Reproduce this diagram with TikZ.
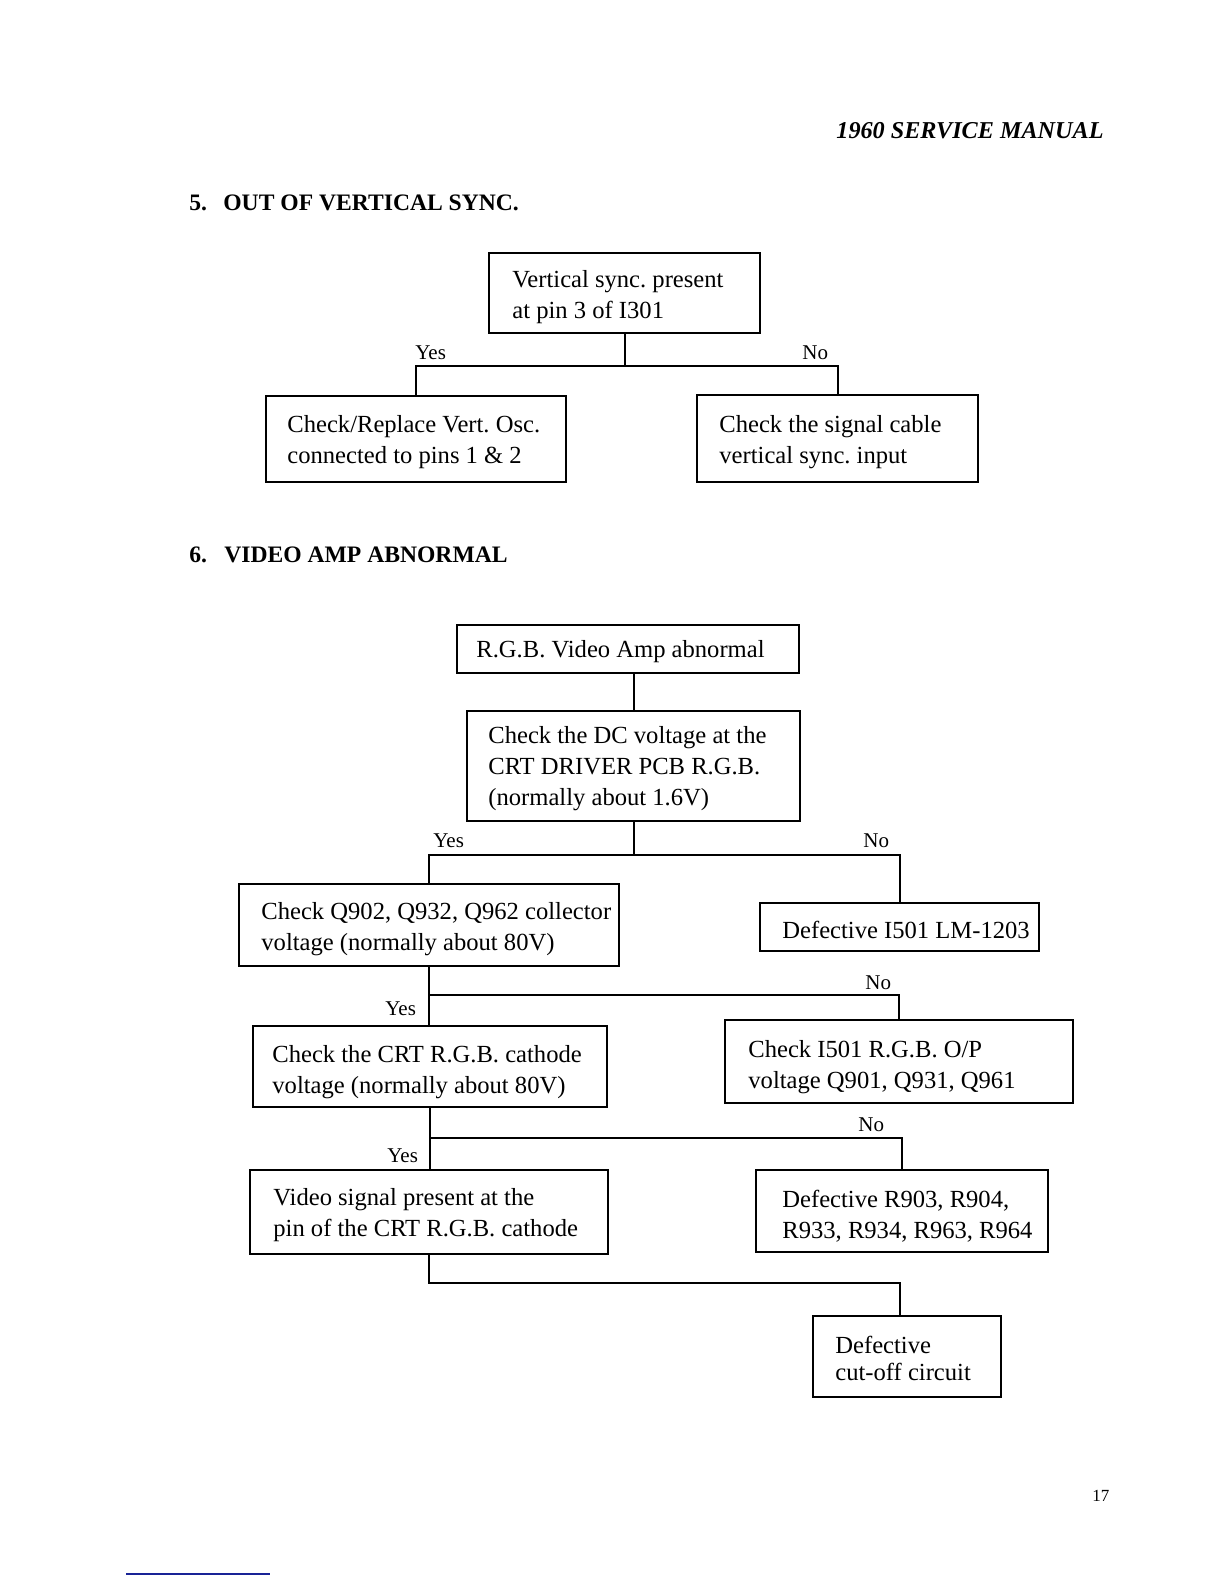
\documentclass[tikz,border=0pt]{standalone}
\usepackage{fontspec}
\setmainfont{Liberation Serif}
\usetikzlibrary{fit}
\definecolor{bluel}{RGB}{25,35,150}
\newcommand{\boxlines}[1]{\begin{tabular}[t]{@{}l@{}}#1\end{tabular}}
\frenchspacing
\begin{document}
\begin{tikzpicture}[x=0.5pt,y=-0.5pt,
  box/.style={draw, line width=1pt, inner sep=0pt},
  txt/.style={anchor=base west, inner sep=0pt, font=\fontsize{12.3pt}{15.5pt}\selectfont},
  txttight/.style={anchor=base west, inner sep=0pt, font=\fontsize{12.3pt}{13.5pt}\selectfont},
  lbl/.style={anchor=base west, inner sep=0pt, font=\fontsize{10.5pt}{12pt}\selectfont},
  head/.style={anchor=base west, inner sep=0pt, font=\fontsize{11.8pt}{14pt}\selectfont\bfseries},
  conn/.style={draw, line width=1pt}]
\useasboundingbox (0,0) rectangle (1224,1584);
\fill[white] (0,0) rectangle (1224,1584);

% header
\node[anchor=base east, inner sep=0pt, font=\fontsize{12.1pt}{14pt}\selectfont\bfseries\itshape] (hdr) at (1104,139) {1960 SERVICE MANUAL};
\node[head] (h5) at (189,210) {\makebox[17pt][l]{5.}OUT OF VERTICAL SYNC.};
\node[head] (h6) at (189,562) {\makebox[17.5pt][l]{6.}VIDEO AMP ABNORMAL};

% section 5
\node[box, fit={(489,253) (760,333)}] (v1) {};
\node[txt] (v1t) at (512,287) {\boxlines{Vertical sync. present\\at pin 3 of I301}};
\node[box, fit={(266,396) (566,482)}] (v2) {};
\node[txt] (v2t) at (287,432) {\boxlines{Check/Replace Vert. Osc.\\connected to pins 1 \& 2}};
\node[box, fit={(697,395) (978,482)}] (v3) {};
\node[txt] (v3t) at (719,432) {\boxlines{Check the signal cable\\vertical sync. input}};
\coordinate (j1) at (624,366);
\draw[conn] (v1.south) -- (v1.south |- j1);
\draw[conn] (v2.north) -- (v2.north |- j1) -- (v3.north |- j1) -- (v3.north);
\node[lbl] (y1) at (415,359) {Yes};
\node[lbl] (n1) at (802,359) {No};

% section 6
\node[box, fit={(457,625) (799,673)}] (A) {};
\node[txt] (At) at (476,657) {R.G.B. Video Amp abnormal};
\node[box, fit={(467,711) (800,821)}] (B) {};
\node[txt] (Bt) at (488,743) {\boxlines{Check the DC voltage at the\\CRT DRIVER PCB R.G.B.\\(normally about 1.6V)}};
\draw[conn] (B.north) -- (B.north |- A.south);

\node[box, fit={(239,884) (619,966)}] (C) {};
\node[txt] (Ct) at (261,919) {\boxlines{Check Q902, Q932, Q962 collector\\voltage (normally about 80V)}};
\node[box, fit={(760,903) (1039,951)}] (D) {};
\node[txt] (Dt) at (782,938) {Defective I501 LM-1203};
\coordinate (j2) at (635,855);
\draw[conn] (B.south) -- (B.south |- j2);
\draw[conn] (C.north) -- (C.north |- j2) -- (D.north |- j2) -- (D.north);
\node[lbl] (y2) at (433,847) {Yes};
\node[lbl] (n2) at (863,847) {No};

\node[box, fit={(253,1026) (607,1107)}] (E) {};
\node[txt] (Et) at (272,1062) {\boxlines{Check the CRT R.G.B. cathode\\voltage (normally about 80V)}};
\node[box, fit={(725,1020) (1073,1103)}] (F) {};
\node[txt] (Ft) at (748,1057) {\boxlines{Check I501 R.G.B. O/P\\voltage Q901, Q931, Q961}};
\coordinate (j3) at (428,995);
\draw[conn] (C.south) -- (C.south |- E.north);
\draw[conn] (C.south |- j3) -- (F.north |- j3) -- (F.north);
\node[lbl] (y3) at (385,1015) {Yes};
\node[lbl] (n3) at (865,989) {No};

\node[box, fit={(250,1170) (608,1254)}] (G) {};
\node[txt] (Gt) at (273,1205) {\boxlines{Video signal present at the\\pin of the CRT R.G.B. cathode}};
\node[box, fit={(756,1170) (1048,1252)}] (H) {};
\node[txt] (Ht) at (782,1207) {\boxlines{Defective R903, R904,\\R933, R934, R963, R964}};
\coordinate (j4) at (429,1138);
\draw[conn] (E.south) -- (E.south |- G.north);
\draw[conn] (E.south |- j4) -- (H.north |- j4) -- (H.north);
\node[lbl] (y4) at (387,1162) {Yes};
\node[lbl] (n4) at (858,1131) {No};

\node[box, fit={(813,1316) (1001,1397)}] (I) {};
\node[txttight] (It) at (835,1353) {\boxlines{Defective\\cut-off circuit}};
\coordinate (k5) at (900,1283);
\draw[conn] (G.south) -- (G.south |- k5) -- (k5) -- (k5 |- I.north);

% footer
\node[anchor=base west, inner sep=0pt, font=\fontsize{8.5pt}{10pt}\selectfont] (pg) at (1092,1501) {17};
\draw[bluel, line width=1pt] (126,1574) -- (270,1574);
\end{tikzpicture}
\end{document}
